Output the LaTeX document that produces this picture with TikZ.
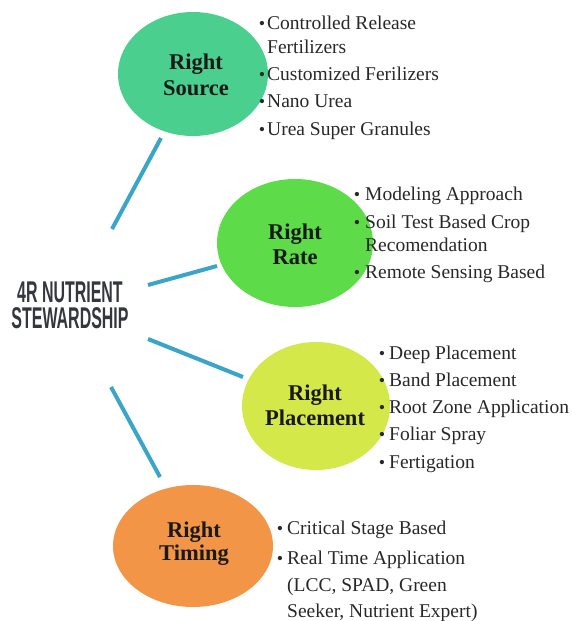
\documentclass[tikz,border=0pt]{standalone}
\usepackage{fontspec}
\setmainfont{Liberation Serif}
\newfontfamily\hubfont{Liberation Sans}
\usetikzlibrary{shapes.geometric}
\definecolor{srcfill}{RGB}{74,207,142}
\definecolor{ratefill}{RGB}{94,219,72}
\definecolor{placefill}{RGB}{213,232,74}
\definecolor{timefill}{RGB}{243,149,71}
\definecolor{linkblue}{RGB}{58,165,198}
\definecolor{itemgray}{RGB}{40,40,40}
\definecolor{hubgray}{RGB}{52,56,62}
\tikzset{
  bubble/.style={ellipse, draw=none, inner sep=0pt},
  bubblelabel/.style={inner sep=0pt, anchor=base, text=black!90,
    font=\fontsize{22.5}{25}\selectfont\bfseries},
  item/.style={inner sep=0pt, anchor=base west, text=itemgray,
    font=\fontsize{19.5}{24}\selectfont},
  dot/.style={inner sep=0pt, anchor=base, text=itemgray,
    font=\fontsize{18}{20}\selectfont},
  link/.style={draw=linkblue, line width=4pt},
  hubtext/.style={inner sep=0pt, anchor=base, text=hubgray,
    font=\hubfont\fontsize{24}{26}\selectfont\bfseries}
}
% tall, narrow capitals for the central title
\newcommand{\narrowcaps}[1]{\scalebox{0.665}[1.25]{#1}}
\begin{document}
\begin{tikzpicture}[x=1pt,y=-1pt]
\useasboundingbox (0,0) rectangle (572,621);

% hub text
\node[hubtext] (hubA) at (70,302) {\narrowcaps{4R NUTRIENT}};
\node[hubtext] (hubB) at (70,328) {\narrowcaps{STEWARDSHIP}};

% the four bubbles
\node[bubble, fill=srcfill, minimum width=150pt, minimum height=124pt] (src) at (193,74) {};
\node[bubble, fill=ratefill, minimum width=156pt, minimum height=128pt] (rate) at (295,243) {};
\node[bubble, fill=placefill, minimum width=148pt, minimum height=128pt] (place) at (316,406) {};
\node[bubble, fill=timefill, minimum width=160pt, minimum height=122pt] (time) at (193,546) {};

\node[bubblelabel] (srcA) at (196,69) {Right};
\node[bubblelabel] (srcB) at (196,95) {Source};
\node[bubblelabel] (rateA) at (295,239) {Right};
\node[bubblelabel] (rateB) at (295,264) {Rate};
\node[bubblelabel] (placeA) at (315,400) {Right};
\node[bubblelabel] (placeB) at (315,425) {Placement};
\node[bubblelabel] (timeA) at (194,537) {Right};
\node[bubblelabel] (timeB) at (194,560) {Timing};

% connector end points
\coordinate (hubS) at (112,229);
\coordinate (srcE) at (161,138);
\coordinate (hubR) at (148,285);
\coordinate (rateE) at (217,266);
\coordinate (hubP) at (148,339);
\coordinate (placeE) at (243,377);
\coordinate (hubT) at (111,387);
\coordinate (timeE) at (160,477);

\draw[link] (hubS) -- (srcE);
\draw[link] (hubR) -- (rateE);
\draw[link] (hubP) -- (placeE);
\draw[link] (hubT) -- (timeE);

% Right Source items
\node[dot] (s1d) at (262,29) {\textbullet};
\node[item] (s1) at (267,29) {Controlled Release};
\node[item] (s1b) at (267,53) {Fertilizers};
\node[dot] (s2d) at (262,80) {\textbullet};
\node[item] (s2) at (267,80) {Customized Ferilizers};
\node[dot] (s3d) at (262,107) {\textbullet};
\node[item] (s3) at (267,107) {Nano Urea};
\node[dot] (s4d) at (262,135) {\textbullet};
\node[item] (s4) at (267,135) {Urea Super Granules};

% Right Rate items
\node[dot] (r1d) at (357,200) {\textbullet};
\node[item] (r1) at (365,200) {Modeling Approach};
\node[dot] (r2d) at (357,228) {\textbullet};
\node[item] (r2) at (365,228) {Soil Test Based Crop};
\node[item] (r2b) at (365,251) {Recomendation};
\node[dot] (r3d) at (357,278) {\textbullet};
\node[item] (r3) at (365,278) {Remote Sensing Based};

% Right Placement items
\node[dot] (p1d) at (382,359) {\textbullet};
\node[item] (p1) at (389,359) {Deep Placement};
\node[dot] (p2d) at (382,386) {\textbullet};
\node[item] (p2) at (389,386) {Band Placement};
\node[dot] (p3d) at (382,413) {\textbullet};
\node[item] (p3) at (389,413) {Root Zone Application};
\node[dot] (p4d) at (382,440) {\textbullet};
\node[item] (p4) at (389,440) {Foliar Spray};
\node[dot] (p5d) at (382,468) {\textbullet};
\node[item] (p5) at (389,468) {Fertigation};

% Right Timing items
\node[dot] (t1d) at (280,534) {\textbullet};
\node[item] (t1) at (287,534) {Critical Stage Based};
\node[dot] (t2d) at (280,564) {\textbullet};
\node[item] (t2) at (287,564) {Real Time Application};
\node[item] (t2b) at (287,591) {(LCC, SPAD, Green};
\node[item] (t2c) at (287,617) {Seeker, Nutrient Expert)};
\end{tikzpicture}
\end{document}
